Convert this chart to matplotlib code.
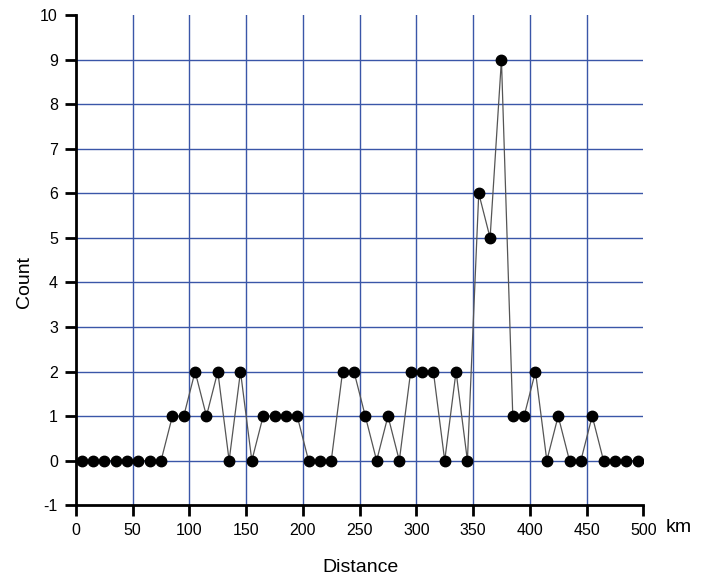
import matplotlib.pyplot as plt

plt.rcParams["font.family"] = ["Liberation Sans", "DejaVu Sans"]
plt.rcParams["axes.unicode_minus"] = False

# bin centres (km) and counts per bin
distance = [5, 15, 25, 35, 45, 55, 65, 75, 85, 95,
            105, 115, 125, 135, 145, 155, 165, 175, 185, 195,
            205, 215, 225, 235, 245, 255, 265, 275, 285, 295,
            305, 315, 325, 335, 345, 355, 365, 375, 385, 395,
            405, 415, 425, 435, 445, 455, 465, 475, 485, 495]
count = [0, 0, 0, 0, 0, 0, 0, 0, 1, 1,
         2, 1, 2, 0, 2, 0, 1, 1, 1, 1,
         0, 0, 0, 2, 2, 1, 0, 1, 0, 2,
         2, 2, 0, 2, 0, 6, 5, 9, 1, 1,
         2, 0, 1, 0, 0, 1, 0, 0, 0, 0]

x_ticks = [0, 50, 100, 150, 200, 250, 300, 350, 400, 450, 500]
y_ticks = [-1, 0, 1, 2, 3, 4, 5, 6, 7, 8, 9, 10]

fig = plt.figure(figsize=(7.1, 5.8), dpi=100)
ax = fig.add_axes([0.107, 0.129, 0.799, 0.845])

grid_color = "#3a56a8"
for xv in x_ticks[1:-1]:
    ax.axvline(xv, color=grid_color, lw=1, zorder=1)
for yv in y_ticks[1:-1]:
    ax.axhline(yv, color=grid_color, lw=1, zorder=1)

ax.plot(distance, count, color="#555555", lw=0.9, zorder=2)
ax.plot(distance, count, linestyle="none", marker="o", markersize=7.5,
        color="black", zorder=3)

ax.set_xlim(0, 500)
ax.set_ylim(-1, 10)
ax.set_xticks(x_ticks)
ax.set_yticks(y_ticks)

for side in ["top", "right"]:
    ax.spines[side].set_visible(False)
for side in ["left", "bottom"]:
    ax.spines[side].set_linewidth(2)
    ax.spines[side].set_color("black")

ax.tick_params(direction="out", length=8, width=2, labelsize=11.5,
               colors="black", pad=5)

fig.text(360 / 710, 1 - 567 / 580, "Distance", fontsize=14,
         ha="center", va="center")
fig.text(25 / 710, 1 - 282 / 580, "Count", fontsize=14, rotation=90,
         ha="center", va="center")
fig.text(679 / 710, 1 - 528 / 580, "km", fontsize=14,
         ha="center", va="center")

plt.savefig("out.png", dpi=100)
plt.close()
